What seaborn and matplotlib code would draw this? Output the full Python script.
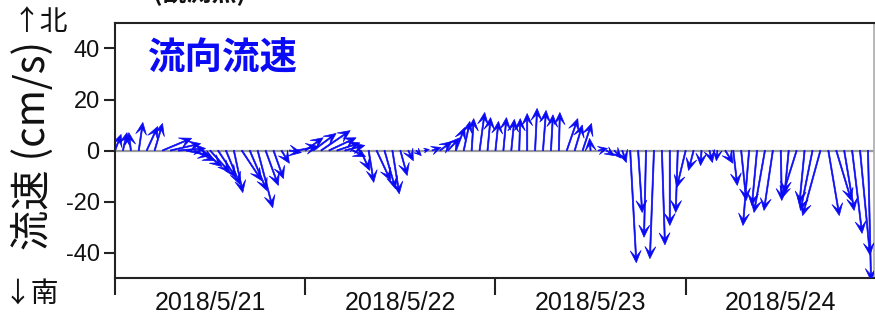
import numpy as np
import pandas as pd
import matplotlib
matplotlib.use("Agg")
import matplotlib.pyplot as plt
import matplotlib.dates as mdates
import seaborn as sns

# 1時間ごとの流速ベクトル (東西成分 u, 南北成分 v) [cm/s]
times = pd.date_range("2018-05-21 00:00", periods=96, freq="h")
u = [2.4, 1.6, -0.8, 1.6, 4.3, 3.1, 11.4, 11.8, 10.6, 9.4, 8.2, 7.8,
     7.8, 7.0, 5.5, 3.5, 7.8, 6.7, 5.9, 5.0, 3.9, 3.1, 4.7, 8.2,
     7.0, 9.0, 11.4, 10.6, 9.0, 7.8, 5.0, 3.5, 2.0, 5.5, 4.3, 2.7,
     2.7, 2.0, 2.0, 2.0, 3.5, 4.7, 4.7, 3.5, 2.4, 0.8, 2.0, 1.2,
     1.2, 1.2, 1.2, 0.4, 0.0, 0.8, 1.2, 0.8, 0.4, 4.3, 3.0, 3.5,
     -0.4, 3.5, 3.0, 2.7, 1.6, 2.4, 1.6, -0.8, -1.6, 1.2, 0.0, -0.8,
     -3.5, -2.0, -0.4, 1.2, -0.4, 3.0, 1.6, 2.0, -2.4, -2.0, -4.3, -3.5,
     0.4, -1.6, -5.9, -2.0, -4.7, -7.0, 4.3, 5.9, 3.9, 3.9, 3.9, 1.2]
v = [6.3, 7.0, 7.0, 11.0, 9.4, 10.6, 4.8, 2.7, 0.8, -2.0, -4.0, -6.3,
     -8.6, -10.6, -13.3, -16.5, -11.8, -15.7, -22.4, -13.7, -11.0, -5.0, -0.8, 1.6,
     5.0, 6.7, 7.8, 5.0, 3.0, 2.0, -2.4, -7.8, -12.5, -11.8, -15.0, -17.0,
     -9.8, -4.0, -2.0, 0.4, 1.2, 3.5, 5.0, 9.0, 11.4, 12.5, 14.9, 12.9,
     11.4, 12.9, 12.2, 12.5, 14.5, 16.5, 15.7, 14.0, 14.9, 12.5, 10.0, 10.6,
     4.7, 0.8, -2.0, -3.0, -4.7, -44.0, -24.3, -34.0, -42.4, -37.0, -29.4, -24.3,
     -14.5, -7.8, -5.9, -4.7, -4.0, -5.0, -13.7, -19.6, -29.4, -21.6, -24.3, -23.5,
     -19.6, -16.9, -18.8, -20.8, -23.5, -25.5, -25.5, -19.6, -23.5, -32.5, -41.0, -51.0]

day_edges = pd.date_range("2018-05-21", periods=5, freq="D")
day_labels = ["2018/5/21", "2018/5/22", "2018/5/23", "2018/5/24"]
yticks = [40, 20, 0, -20, -40]

sns.set_theme(style="ticks")
plt.rcParams['font.family'] = ['Liberation Sans', 'Noto Sans CJK JP', 'DejaVu Sans']
plt.rcParams['axes.unicode_minus'] = False
cjk = ['Noto Sans CJK JP', 'DejaVu Sans']
blue = "#0a0af5"

fig = plt.figure(figsize=(8.75, 3.14), dpi=100)
ax = fig.add_axes([115 / 875, 36 / 314, 759 / 875, 255 / 314])

x = mdates.date2num(times)
ax.axhline(0, color="#999999", lw=1.6, zorder=1)
# 矢印の太さ・矢じりはピクセル単位で指定
ax.quiver(x, np.zeros(len(x)), u, v, angles="uv", scale_units="y", scale=1,
          units="dots", width=1.2, headwidth=9, headlength=10,
          headaxislength=5.5, color=blue, edgecolor=blue, linewidth=0.5,
          zorder=3)

ax.set_ylim(-50, 50)
ax.set_yticks(yticks)
ax.set_yticklabels([str(t) for t in yticks])
ax.set_xlim(x[0], mdates.date2num(day_edges[-1]) - 0.01)

ax.set_xticks(mdates.date2num(day_edges[:-1]))
ax.set_xticklabels([])
mids = mdates.date2num(day_edges[:-1] + pd.Timedelta(hours=12))
ax.set_xticks(mids, minor=True)
ax.set_xticklabels(day_labels, minor=True)
ax.tick_params(axis="x", which="major", length=12, width=1.5, color="#222222")
ax.tick_params(axis="x", which="minor", length=0, labelsize=18, pad=9,
               labelcolor="#111111")
ax.tick_params(axis="y", length=8, width=1.5, color="#222222", labelsize=17,
               pad=3, labelcolor="#111111")

for side in ["left", "bottom", "top"]:
    ax.spines[side].set_color("#222222")
    ax.spines[side].set_linewidth(1.5)
ax.spines["right"].set_color("#aaaaaa")
ax.spines["right"].set_linewidth(1.2)

ax.text((148 - 115) / 759, 0.867, "流向流速", transform=ax.transAxes,
        family=cjk, fontsize=27, fontweight="bold", color=blue,
        ha="left", va="center")

fig.text(33 / 875, 1 - 145 / 314, "流速 (cm/s)", family=cjk, fontsize=29,
         rotation=90, ha="center", va="center", color="#111111")
fig.text(13 / 875, 1 - 22 / 314, "↑北", family=cjk, fontsize=20,
         ha="left", va="center", color="#111111")
fig.text(4 / 875, 1 - 294 / 314, "↓南", family=cjk, fontsize=20,
         ha="left", va="center", color="#111111")
fig.text(200 / 875, 1 - 6 / 314, "(観測点)", family=cjk, fontsize=18,
         fontweight="bold", ha="center", va="bottom", color="#111111")

fig.savefig("out.png", dpi=100)
